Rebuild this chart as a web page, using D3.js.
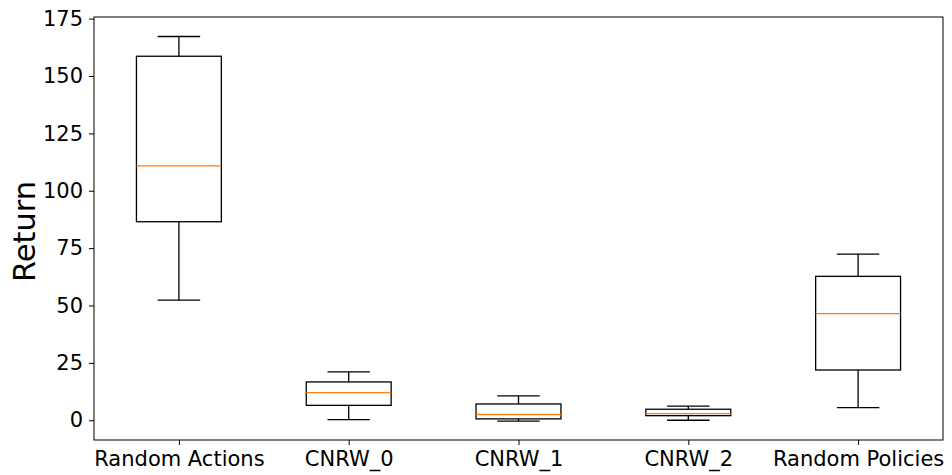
<!DOCTYPE html>
<meta charset="utf-8">
<style>
  body { margin: 0; background: #fff; }
  svg { font-family: "DejaVu Sans", sans-serif; }
</style>
<svg width="952" height="475"></svg>
<script src="https://d3js.org/d3.v7.min.js"></script>
<script>

// box stats
var categories = ["Random Actions", "CNRW_0", "CNRW_1", "CNRW_2", "Random Policies"];
var whiskerLow  = [52.3, 0.3, -0.4, 0.0, 5.5];
var q1          = [86.5, 6.5, 0.6, 2.0, 21.9];
var medians     = [110.8, 12.0, 2.5, 2.9, 46.5];
var q3          = [158.6, 16.7, 7.1, 4.8, 62.7];
var whiskerHigh = [167.2, 21.1, 10.6, 6.2, 72.4];
var yTicks = [0, 25, 50, 75, 100, 125, 150, 175];

var svg = d3.select("svg");
var margin = {left: 94, right: 9, top: 17, bottom: 35};
var width = 952 - margin.left - margin.right,
    height = 475 - margin.top - margin.bottom;

var g = svg.append("g").attr("transform", "translate(" + margin.left + "," + margin.top + ")");

var x = d3.scaleLinear().domain([0.5, 5.5]).range([0, width]);
var y = d3.scaleLinear().domain([-8.6, 175.7]).range([height, 0]);

var boxes = categories.map(function(c, i) {
  return {name: c, pos: i + 1, lo: whiskerLow[i], q1: q1[i], med: medians[i], q3: q3[i], hi: whiskerHigh[i]};
});

var boxW = x(1.25) - x(1), capW = x(1.125) - x(1);

var b = g.selectAll(".box").data(boxes).enter().append("g").attr("class", "box");

// whiskers
b.append("line")
  .attr("x1", d => x(d.pos)).attr("x2", d => x(d.pos))
  .attr("y1", d => y(d.lo)).attr("y2", d => y(d.q1))
  .attr("stroke", "#000").attr("stroke-width", 1.3);
b.append("line")
  .attr("x1", d => x(d.pos)).attr("x2", d => x(d.pos))
  .attr("y1", d => y(d.q3)).attr("y2", d => y(d.hi))
  .attr("stroke", "#000").attr("stroke-width", 1.3);
// caps
b.append("line")
  .attr("x1", d => x(d.pos) - capW).attr("x2", d => x(d.pos) + capW)
  .attr("y1", d => y(d.lo)).attr("y2", d => y(d.lo))
  .attr("stroke", "#000").attr("stroke-width", 1.3);
b.append("line")
  .attr("x1", d => x(d.pos) - capW).attr("x2", d => x(d.pos) + capW)
  .attr("y1", d => y(d.hi)).attr("y2", d => y(d.hi))
  .attr("stroke", "#000").attr("stroke-width", 1.3);
// box
b.append("rect")
  .attr("x", d => x(d.pos) - boxW).attr("width", 2 * boxW)
  .attr("y", d => y(d.q3)).attr("height", d => y(d.q1) - y(d.q3))
  .attr("fill", "none").attr("stroke", "#000").attr("stroke-width", 1.3);
// median
b.append("line")
  .attr("x1", d => x(d.pos) - boxW).attr("x2", d => x(d.pos) + boxW)
  .attr("y1", d => y(d.med)).attr("y2", d => y(d.med))
  .attr("stroke", "#ff7f0e").attr("stroke-width", 1.3);

// axes
var yAxis = g.append("g")
  .call(d3.axisLeft(y).tickValues(yTicks).tickSize(5).tickPadding(6));
var xAxis = g.append("g").attr("transform", "translate(0," + height + ")")
  .call(d3.axisBottom(x).tickValues([1, 2, 3, 4, 5]).tickSize(5).tickPadding(6)
        .tickFormat(d => categories[d - 1]));
[xAxis, yAxis].forEach(function(a) {
  a.select(".domain").remove();
  a.selectAll("line").attr("stroke", "#000").attr("stroke-width", 1);
  a.selectAll("text").attr("fill", "#000").style("font-size", "21px").style("font-family", "DejaVu Sans");
});

// frame
g.append("rect").attr("width", width).attr("height", height)
  .attr("fill", "none").attr("stroke", "#000").attr("stroke-width", 1);

// y label
svg.append("text")
  .attr("transform", "translate(35," + (margin.top + height / 2 + 3) + ") rotate(-90)")
  .attr("text-anchor", "middle")
  .style("font-size", "30.5px")
  .text("Return");

</script>
